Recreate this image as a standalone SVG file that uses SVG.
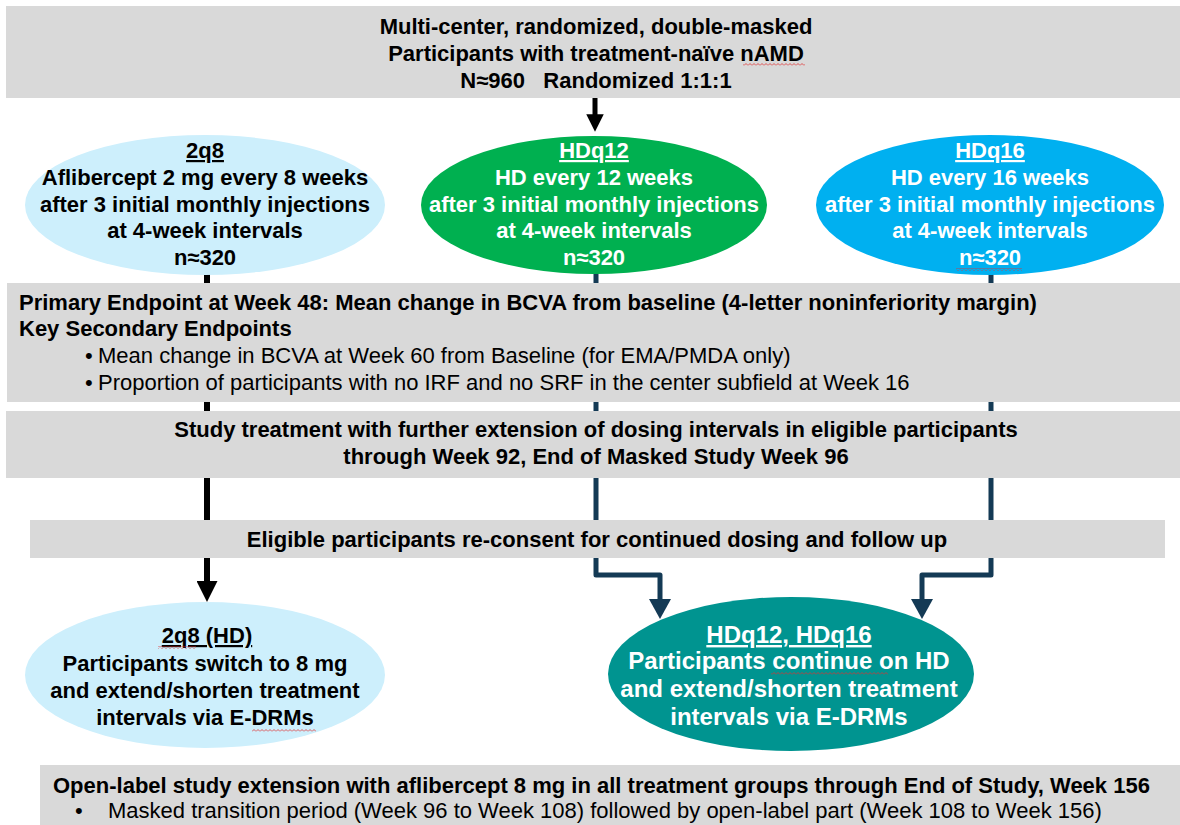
<svg xmlns="http://www.w3.org/2000/svg" width="1180" height="825" viewBox="0 0 1180 825">
<style>
.b{font-family:"Liberation Sans",Arial,sans-serif;font-weight:bold;font-size:22px}
.r{font-family:"Liberation Sans",Arial,sans-serif;font-weight:normal;font-size:22px}
.box{fill:#d9d9d9}
.k{fill:#000}
.w{fill:#fff}
.c{text-anchor:middle}
.u{text-decoration:underline}
.blk{fill:none;stroke:#000;stroke-linejoin:round}
.nav{fill:none;stroke:#143a55;stroke-width:5;stroke-linejoin:round}
.sq{fill:url(#sq)}
</style>
<defs>
<marker id="ak" viewBox="0 0 10 10" refX="0.5" refY="5" markerWidth="3.5" markerHeight="3.5" orient="auto" markerUnits="strokeWidth"><path d="M0,0 L10,5 L0,10 z" fill="#000"/></marker>
<marker id="an" viewBox="0 0 10 10" refX="0.5" refY="5" markerWidth="4" markerHeight="4.4" orient="auto" markerUnits="strokeWidth" preserveAspectRatio="none"><path d="M0,0 L10,5 L0,10 z" fill="#143a55"/></marker>
<pattern id="sq" width="4" height="3" patternUnits="userSpaceOnUse"><path d="M0 2.5 L2 0.5 L4 2.5" fill="none" stroke="#e03030" stroke-width="0.8"/></pattern>
</defs>
<rect width="1180" height="825" fill="#fff"/>

<g id="connectors">
<path class="blk" d="M595 98 V115" stroke-width="5" marker-end="url(#ak)"/>
<path class="blk" d="M207 270 V582" stroke-width="6" marker-end="url(#ak)"/>
<path class="nav" d="M596 270 V575 H660 V600" marker-end="url(#an)"/>
<path class="nav" d="M991 272 V575 H922 V600" marker-end="url(#an)"/>
</g>

<g id="study-design">
<rect class="box" x="6" y="6" width="1174" height="92"/>
<text class="b k c" x="596" y="34">Multi-center, randomized, double-masked</text>
<text class="b k c" x="596" y="61">Participants with treatment-naïve nAMD</text>
<text class="b k c" x="596" y="88" xml:space="preserve" style="white-space:pre">N≈960   Randomized 1:1:1</text>
<rect class="sq" x="743" y="63" width="62" height="3"/>
</g>

<g id="arm-2q8">
<ellipse cx="205" cy="205" rx="180" ry="70" fill="#cdeffc"/>
<text class="b k c" x="205" y="158"><tspan class="u">2q8</tspan></text>
<text class="b k c" x="205" y="185">Aflibercept 2 mg every 8 weeks</text>
<text class="b k c" x="205" y="212">after 3 initial monthly injections</text>
<text class="b k c" x="205" y="238">at 4-week intervals</text>
<text class="b k c" x="205" y="265">n≈320</text>
</g>

<g id="arm-hdq12">
<ellipse cx="594" cy="205" rx="173" ry="69" fill="#00b050"/>
<text class="b w c" x="594" y="158"><tspan class="u">HDq12</tspan></text>
<text class="b w c" x="594" y="185">HD every 12 weeks</text>
<text class="b w c" x="594" y="212">after 3 initial monthly injections</text>
<text class="b w c" x="594" y="238">at 4-week intervals</text>
<text class="b w c" x="594" y="265">n≈320</text>
</g>

<g id="arm-hdq16">
<ellipse cx="990" cy="205" rx="174" ry="70" fill="#00b0f0"/>
<text class="b w c" x="990" y="158"><tspan class="u">HDq16</tspan></text>
<text class="b w c" x="990" y="185">HD every 16 weeks</text>
<text class="b w c" x="990" y="212">after 3 initial monthly injections</text>
<text class="b w c" x="990" y="238">at 4-week intervals</text>
<text class="b w c" x="990" y="265">n≈320</text>
<rect class="sq" x="956" y="268" width="66" height="3"/>
</g>

<g id="endpoints">
<rect class="box" x="7" y="283" width="1173" height="119"/>
<text class="b k" x="19" y="310">Primary Endpoint at Week 48: Mean change in BCVA from baseline (4-letter noninferiority margin)</text>
<text class="b k" x="19" y="336">Key Secondary Endpoints</text>
<text class="r k" x="85" y="363">•</text>
<text class="r k" x="98" y="363">Mean change in BCVA at Week 60 from Baseline (for EMA/PMDA only)</text>
<text class="r k" x="85" y="390">•</text>
<text class="r k" x="98" y="390">Proportion of participants with no IRF and no SRF in the center subfield at Week 16</text>
</g>

<g id="study-treatment">
<rect class="box" x="6" y="411" width="1174" height="67"/>
<text class="b k c" x="596" y="437">Study treatment with further extension of dosing intervals in eligible participants</text>
<text class="b k c" x="596" y="464">through Week 92, End of Masked Study Week 96</text>
</g>

<g id="re-consent">
<rect class="box" x="30" y="520" width="1135" height="38"/>
<text class="b k c" x="597" y="547">Eligible participants re-consent for continued dosing and follow up</text>
</g>

<g id="ext-2q8-hd">
<ellipse cx="205" cy="675" rx="180" ry="73" fill="#cdeffc"/>
<text class="b k c" x="207" y="643"><tspan class="u">2q8 (HD)</tspan></text>
<text class="b k c" x="205" y="671">Participants switch to 8 mg</text>
<text class="b k c" x="205" y="698">and extend/shorten treatment</text>
<text class="b k c" x="205" y="725">intervals via E-DRMs</text>
<rect class="sq" x="158" y="646" width="38" height="3"/>
<rect class="sq" x="252" y="729" width="64" height="3"/>
</g>

<g id="ext-hd">
<ellipse cx="791" cy="674" rx="183" ry="77" fill="#009490"/>
<text class="b w c" x="789" y="643" style="font-size:24px"><tspan class="u">HDq12, HDq16</tspan></text>
<text class="b w c" x="789" y="669" style="font-size:24px">Participants continue on HD</text>
<text class="b w c" x="789" y="697" style="font-size:24px">and extend/shorten treatment</text>
<text class="b w c" x="789" y="725" style="font-size:24px">intervals via E-DRMs</text>
<rect class="sq" x="771" y="672" width="117" height="3"/>
</g>

<g id="open-label">
<rect class="box" x="40" y="765" width="1140" height="60"/>
<text class="b k" x="53" y="793">Open-label study extension with aflibercept 8 mg in all treatment groups through End of Study, Week 156</text>
<text class="r k" x="75" y="818">•</text>
<text class="r k" x="108" y="818">Masked transition period (Week 96 to Week 108) followed by open-label part (Week 108 to Week 156)</text>
</g>
</svg>
